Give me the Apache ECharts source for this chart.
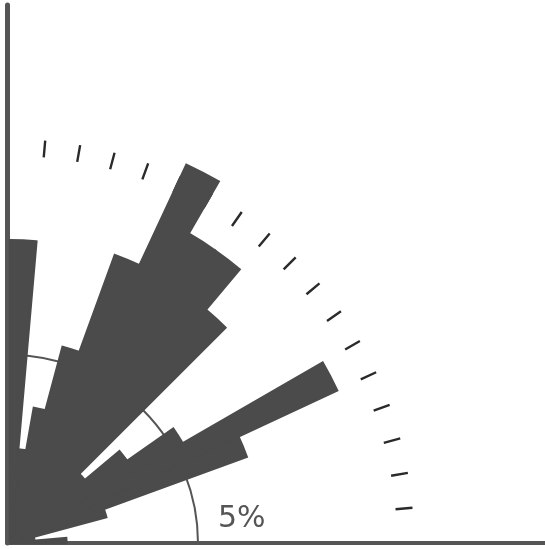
<!DOCTYPE html>
<html>
<head>
<meta charset="utf-8">
<script src="https://cdn.jsdelivr.net/npm/echarts@6/dist/echarts.min.js"></script>
<style>
  html, body { margin: 0; padding: 0; background: #fff; }
  #chart { width: 545px; height: 549px; }
</style>
</head>
<body>
<div id="chart"></div>
<script>
// Direction classes, 5° each, counted anticlockwise from the horizontal axis
const sectors = ['0-5', '5-10', '10-15', '15-20', '20-25', '25-30', '30-35', '35-40', '40-45',
                 '45-50', '50-55', '55-60', '60-65', '65-70', '70-75', '75-80', '80-85', '85-90'];
// Share of all measurements in each class (%)
const shares = [1.5, 0.6, 0.65, 2.65, 6.7, 9.6, 5.3, 3.8, 2.6,
                8.1, 9.5, 9.5, 11.1, 8.15, 5.4, 3.65, 2.5, 8.05];
// Reference ring and its label
const ringValue = 5;
const ringLabel = '5%';

const ORIGIN = [10, 543];
const PX_PER_PCT = 188 / ringValue;
const R_MAX = 12;
const BAR_COLOR = '#4b4b4b';

const chart = echarts.init(document.getElementById('chart'), null, { renderer: 'canvas' });

const hiddenAngle = {
  axisLine: { show: false }, axisTick: { show: false },
  axisLabel: { show: false }, splitLine: { show: false }
};

chart.setOption({
  animation: false,
  backgroundColor: '#ffffff',
  grid: { left: 7.5, right: 0, top: 5, bottom: 6 },
  xAxis: {
    type: 'value', min: 0, max: 1,
    axisLine: { show: true, lineStyle: { color: '#555', width: 4 } },
    axisTick: { show: false }, axisLabel: { show: false }, splitLine: { show: false }
  },
  yAxis: {
    type: 'value', min: 0, max: 1,
    axisLine: { show: true, lineStyle: { color: '#555', width: 5 } },
    axisTick: { show: false }, axisLabel: { show: false }, splitLine: { show: false }
  },
  polar: [
    { center: ORIGIN, radius: R_MAX * PX_PER_PCT },
    { center: ORIGIN, radius: 404 },
    { center: ORIGIN, radius: ringValue * PX_PER_PCT }
  ],
  angleAxis: [
    Object.assign({
      polarIndex: 0, type: 'category', data: sectors, boundaryGap: true,
      startAngle: 0, endAngle: 90, clockwise: false
    }, hiddenAngle),
    {
      // direction ring: a dash at every class boundary between the two axes
      polarIndex: 1, type: 'value', min: 5, max: 85, interval: 5,
      startAngle: 5, endAngle: 85, clockwise: false,
      axisLine: { show: false },
      axisTick: { show: true, inside: true, length: 17, lineStyle: { color: '#2a2a2a', width: 2.4 } },
      axisLabel: { show: false }, splitLine: { show: false }
    },
    {
      polarIndex: 2, type: 'value', min: 0, max: 90,
      startAngle: 0, endAngle: 90, clockwise: false,
      axisLine: { show: true, lineStyle: { color: '#555', width: 2 } },
      axisTick: { show: false }, axisLabel: { show: false }, splitLine: { show: false }
    }
  ],
  radiusAxis: [
    { polarIndex: 0, type: 'value', min: 0, max: R_MAX, show: false },
    { polarIndex: 1, type: 'value', min: 0, max: 1, show: false },
    { polarIndex: 2, type: 'value', min: 0, max: 1, show: false }
  ],
  series: [{
    type: 'bar',
    coordinateSystem: 'polar',
    polarIndex: 0,
    data: shares,
    barCategoryGap: '0%',
    z: 5,
    itemStyle: { color: BAR_COLOR, borderColor: BAR_COLOR, borderWidth: 2.4 }
  }],
  graphic: [{
    type: 'text',
    left: 218,
    top: 504,
    z: 10,
    style: { text: ringLabel, font: '30px "DejaVu Sans"', fill: '#555' }
  }]
});
</script>
</body>
</html>
